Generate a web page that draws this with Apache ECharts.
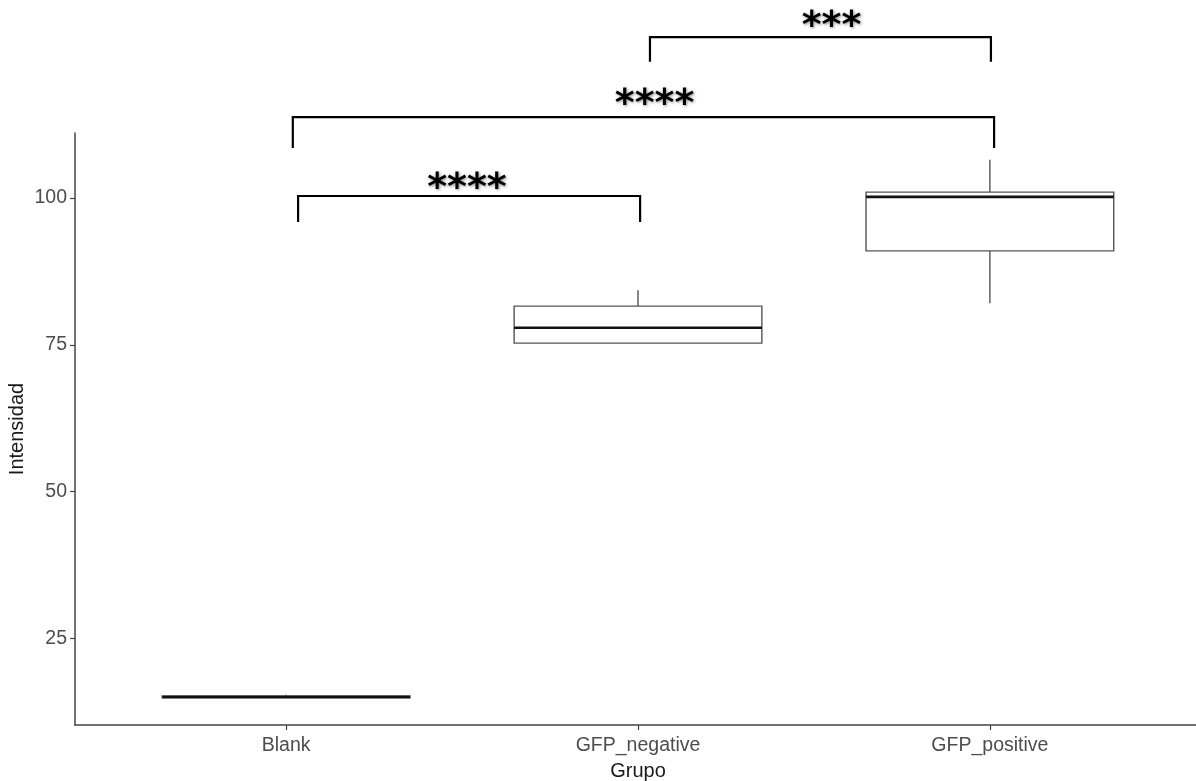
<!DOCTYPE html>
<html>
<head>
<meta charset="utf-8">
<script src="https://cdn.jsdelivr.net/npm/echarts@6/dist/echarts.min.js"></script>
<style>
html,body{margin:0;padding:0;background:#fff;}
#chart{width:1196px;height:781px;}
</style>
</head>
<body>
<div id="chart"></div>
<script>
// ---- data ----
const categories = ['Blank', 'GFP_negative', 'GFP_positive'];
const whiskerLow  = [14.9, 75.3, 82.1];
const q1          = [14.9, 75.3, 91.0];
const median      = [15.05, 77.9, 100.2];
const q3          = [15.2, 81.6, 101.0];
const whiskerHigh = [15.4, 84.3, 106.5];
const yTicks = [25, 50, 75, 100];

// significance brackets (x in category index units, y in Intensidad units)
const bracketFrom  = [1.034, 1.019, 2.034];
const bracketTo    = [2.006, 3.012, 3.003];
const bracketY     = [100.34, 113.79, 127.4];
const bracketTip   = [95.9, 108.5, 123.2];
const bracketLabel = ['****', '****', '***'];
const labelX       = [1.514, 2.047, 2.55];
const labelY       = [101.53, 115.83, 129.11];

const boxData = categories.map((c, i) => [i + 1, whiskerLow[i], q1[i], median[i], q3[i], whiskerHigh[i]]);
const bracketData = bracketFrom.map((f, i) => [f, bracketTo[i], bracketY[i], bracketTip[i], labelX[i], labelY[i], bracketLabel[i]]);

const chart = echarts.init(document.getElementById('chart'), null, {renderer: 'canvas'});
const boxHalf = 0.352;
const FONT = 'Liberation Sans, Arial, sans-serif';

chart.setOption({
  animation: false,
  backgroundColor: '#ffffff',
  grid: {left: 75, right: -5, top: 133, bottom: 56, containLabel: false, outerBoundsMode: 'none'},
  xAxis: {
    type: 'value', min: 0.4, max: 3.6,
    name: 'Grupo', nameLocation: 'middle', nameGap: 36, nameMoveOverlap: false,
    nameTextStyle: {fontFamily: FONT, fontSize: 20, color: '#1a1a1a'},
    axisLine: {show: true, lineStyle: {color: '#444', width: 1.5}},
    axisTick: {show: true, customValues: [1, 2, 3], length: 5, lineStyle: {color: '#444', width: 1.2}},
    axisLabel: {show: true, customValues: [1, 2, 3], margin: 11,
      formatter: v => categories[Math.round(v) - 1] || '',
      fontFamily: FONT, fontSize: 19.5, color: '#4d4d4d'},
    splitLine: {show: false}
  },
  yAxis: {
    type: 'value', min: 10.27, max: 111.07,
    name: 'Intensidad', nameLocation: 'middle', nameGap: 48, nameRotate: 90, nameMoveOverlap: false,
    nameTextStyle: {fontFamily: FONT, fontSize: 20, color: '#1a1a1a'},
    axisLine: {show: true, lineStyle: {color: '#444', width: 1.5}},
    axisTick: {show: true, customValues: yTicks, length: 5, lineStyle: {color: '#444', width: 1.2}},
    axisLabel: {show: true, customValues: yTicks, margin: 8,
      fontFamily: FONT, fontSize: 19.5, color: '#4d4d4d'},
    splitLine: {show: false}
  },
  series: [
    {
      type: 'custom',
      data: boxData,
      encode: {x: 0, y: [1, 2, 3, 4, 5]},
      renderItem: function (params, api) {
        const x = api.value(0);
        const lo = api.coord([x, api.value(1)]);
        const b1 = api.coord([x, api.value(2)]);
        const md = api.coord([x, api.value(3)]);
        const b3 = api.coord([x, api.value(4)]);
        const hi = api.coord([x, api.value(5)]);
        const L = api.coord([x - boxHalf, api.value(3)])[0];
        const R = api.coord([x + boxHalf, api.value(3)])[0];
        const cx = lo[0];
        const edge = {stroke: '#555', lineWidth: 1.4, fill: null};
        return {
          type: 'group',
          children: [
            {type: 'line', shape: {x1: cx, y1: b3[1], x2: cx, y2: hi[1]}, style: edge},
            {type: 'line', shape: {x1: cx, y1: b1[1], x2: cx, y2: lo[1]}, style: edge},
            {type: 'rect', shape: {x: L, y: b3[1], width: R - L, height: b1[1] - b3[1]}, style: {stroke: '#555', lineWidth: 1.4, fill: '#fff'}},
            {type: 'line', shape: {x1: L, y1: md[1], x2: R, y2: md[1]}, style: {stroke: '#111', lineWidth: 2.6}}
          ]
        };
      }
    },
    {
      type: 'custom',
      clip: false,
      data: bracketData,
      encode: {x: [0, 1], y: [2, 3]},
      renderItem: function (params, api) {
        const f = api.value(0), t = api.value(1);
        const yTop = api.value(2), yTip = api.value(3);
        const pL = api.coord([f, yTop]);
        const pR = api.coord([t, yTop]);
        const tL = api.coord([f, yTip]);
        const tR = api.coord([t, yTip]);
        const lp = api.coord([api.value(4), api.value(5)]);
        const label = bracketData[params.dataIndex][6];
        return {
          type: 'group',
          children: [
            {type: 'polyline', shape: {points: [[tL[0], tL[1]], [pL[0], pL[1]], [pR[0], pR[1]], [tR[0], tR[1]]]},
              style: {stroke: '#000', lineWidth: 2.2, fill: null}},
            {type: 'text', x: lp[0], y: lp[1],
              style: {text: label, fill: '#000', font: 'bold 38px "DejaVu Sans"',
                textAlign: 'center', textVerticalAlign: 'middle',
                textShadowColor: 'rgba(0,0,0,0.45)', textShadowBlur: 3, textShadowOffsetX: 1, textShadowOffsetY: 1}}
          ]
        };
      }
    }
  ]
});
</script>
</body>
</html>
